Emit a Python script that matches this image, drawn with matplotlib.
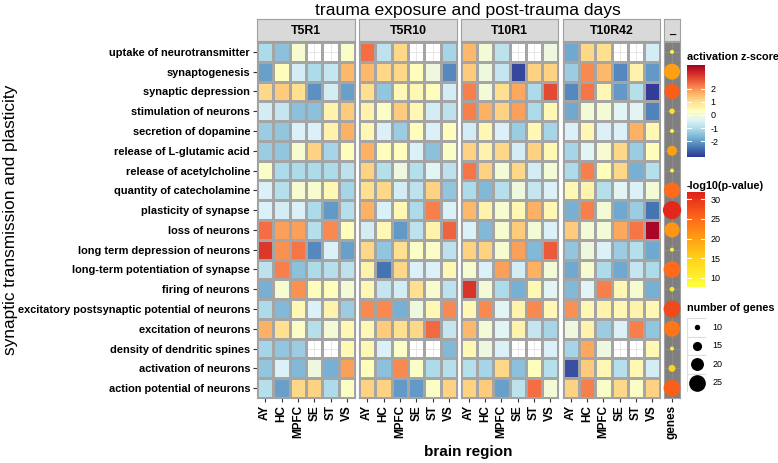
import numpy as np
import matplotlib
matplotlib.use('Agg')
import matplotlib.pyplot as plt
from matplotlib.colors import LinearSegmentedColormap
from matplotlib.patches import Rectangle

plt.rcParams['font.family'] = ['Liberation Sans', 'DejaVu Sans']

functions = ["uptake of neurotransmitter", "synaptogenesis", "synaptic depression",
             "stimulation of neurons", "secretion of dopamine", "release of L-glutamic acid",
             "release of acetylcholine", "quantity of catecholamine", "plasticity of synapse",
             "loss of neurons", "long term depression of neurons",
             "long-term potentiation of synapse", "firing of neurons",
             "excitatory postsynaptic potential of neurons", "excitation of neurons",
             "density of dendritic spines", "activation of neurons",
             "action potential of neurons"]
regions = ["AY", "HC", "MPFC", "SE", "ST", "VS"]
conditions = ["T5R1", "T5R10", "T10R1", "T10R42"]
nan = np.nan

z_T5R1 = [
    [-1.05, -1.5, 0.1, nan, nan, 0.2],
    [-1.95, 0.35, -0.55, -1.05, -0.75, 1.55],
    [1.1, 1.3, 1.0, -2.15, -0.55, -1.95],
    [-0.55, -0.75, -1.5, -1.5, 0.6, 1.3],
    [-1.3, -1.4, -0.45, -0.45, 0.6, 1.65],
    [-1.3, -1.4, 0.1, 1.2, -1.15, 0.35],
    [0.2, -1.05, -1.05, -1.05, -1.05, -0.85],
    [-0.45, -0.95, 0.1, 0.1, 0.45, -1.15],
    [-0.45, -0.55, -0.45, -1.05, -2.05, -0.95],
    [2.4, 1.85, 1.85, -0.95, 2.1, 0.35],
    [3.0, 2.0, 2.3, -2.25, -0.45, -1.95],
    [-0.85, 2.2, -1.5, -1.05, -0.95, -0.85],
    [-1.75, 0.1, 2.0, 0.35, 0.35, 0.0],
    [-1.05, -1.6, 0.45, -0.45, 0.6, -1.3],
    [1.65, 1.0, 0.2, -0.95, 0.0, 0.45],
    [-1.15, -1.4, -1.3, nan, nan, 0.45],
    [-1.4, -0.45, -1.6, -0.1, -1.75, 1.85],
    [-0.95, -1.95, 1.1, 1.2, -1.05, 0.2],
]
z_T5R10 = [
    [2.4, -0.85, 1.1, nan, nan, -1.15],
    [1.55, 1.1, 1.1, 0.35, -0.1, -2.25],
    [1.0, -1.4, 0.45, 0.45, 0.35, -0.55],
    [0.6, 0.2, 1.3, 0.45, -0.55, -0.85],
    [0.45, -0.45, -1.3, 0.35, -0.45, 0.35],
    [1.65, 0.35, 0.35, -0.45, -1.5, 0.2],
    [1.2, -0.95, -0.1, -0.95, -0.35, -0.85],
    [1.0, 1.1, -0.55, -0.85, 1.2, -1.4],
    [1.65, -0.45, 0.45, -1.05, 2.2, -0.45],
    [-0.55, 0.45, -2.05, -0.85, 0.6, 2.5],
    [1.1, -1.4, 1.0, 0.2, 0.2, -0.85],
    [0.6, -2.5, 1.1, -0.45, -0.45, 0.45],
    [0.45, -0.75, -0.55, 1.0, 0.1, -0.85],
    [2.1, 2.1, -1.75, -0.1, 0.45, 2.1],
    [0.45, 1.3, 1.0, 1.1, 2.45, -0.75],
    [0.45, -0.45, 0.2, nan, nan, -1.6],
    [0.35, -1.5, 2.1, 0.2, -1.05, -0.95],
    [1.2, 1.2, -2.05, -2.05, 0.2, 1.2],
]
z_T10R1 = [
    [1.55, 0.0, -0.85, nan, nan, -0.1],
    [1.3, -0.1, -0.75, -3.0, 1.2, 1.2],
    [2.2, 0.0, 1.0, 1.75, -1.05, 2.8],
    [2.2, 1.65, 1.2, 1.85, -1.05, 0.45],
    [-0.55, 0.45, -0.45, -1.3, 0.45, -1.15],
    [1.2, 0.6, 1.1, -0.55, 1.2, 0.45],
    [2.3, 1.2, 0.0, 1.1, -0.55, 0.0],
    [-1.05, -1.6, -0.95, -0.1, -0.75, -0.45],
    [1.55, 0.6, 0.1, 0.45, 1.65, 0.45],
    [-0.45, -1.6, 0.1, 1.3, 0.0, -0.45],
    [1.2, 1.2, 0.1, 1.85, -1.6, 2.6],
    [0.1, -0.45, 1.85, -0.55, 1.65, 0.0],
    [3.05, 0.0, -1.05, -1.75, 0.45, -0.35],
    [0.45, 2.1, -0.35, 0.6, 2.1, 0.45],
    [1.55, 0.0, -0.35, 0.6, -0.75, -1.15],
    [0.45, -0.1, -0.45, nan, nan, -0.45],
    [-0.95, -1.15, 1.1, -1.5, 0.35, -0.95],
    [1.2, 1.3, -1.95, -0.85, 2.4, 0.0],
]
z_T10R42 = [
    [-1.85, 1.1, 1.0, nan, nan, -0.55],
    [-1.3, 2.1, 1.55, -2.25, 0.6, -2.05],
    [-2.25, 2.3, 0.45, -2.05, -0.95, -3.1],
    [-1.85, 0.0, 0.0, -0.35, -0.35, -2.3],
    [-0.45, 0.45, -0.45, -0.45, 1.65, 0.45],
    [-1.15, -0.35, 0.1, 1.1, -1.3, 0.35],
    [-1.05, 2.2, 0.35, 1.1, -1.75, -0.95],
    [0.45, 0.6, -0.95, -0.35, -0.45, 0.0],
    [-1.75, 2.2, 0.0, -1.85, -1.3, -2.5],
    [1.3, 0.0, 0.0, 1.75, 2.3, 3.7],
    [-1.4, -0.1, -0.45, -1.3, -0.95, -1.85],
    [-1.85, 0.1, -1.05, -1.85, -0.75, -1.05],
    [-1.6, -0.35, 2.2, 0.45, 0.1, -1.75],
    [2.0, 0.45, 0.6, 0.45, 0.6, 0.45],
    [-0.1, 0.6, -1.3, -0.45, 2.2, -1.4],
    [-1.15, 1.75, -0.1, nan, nan, 0.45],
    [-2.9, 1.3, 0.45, -0.95, 0.45, -0.55],
    [1.2, 2.2, 0.2, 1.1, 0.2, 1.2],
]
gene_counts = [10, 26, 25, 12, 10, 18, 10, 26, 29, 25, 10, 27, 11, 27, 26, 10, 14, 27]
gene_logp = [9, 20, 26, 13, 9, 20, 10, 25, 31, 21, 10, 25, 12, 28, 24, 10, 15, 26]
size_breaks = [10, 15, 20, 25]
z_ticks = [2, 1, 0, -1, -2]
p_ticks = [30, 25, 20, 15, 10]

panels = [z_T5R1, z_T5R10, z_T10R1, z_T10R42]

W, H = 778, 463
fig = plt.figure(figsize=(W / 100, H / 100), dpi=100)


def px_axes(x0, y0, x1, y1):
    return fig.add_axes([x0 / W, 1 - y1 / H, (x1 - x0) / W, (y1 - y0) / H])


zcmap = plt.get_cmap('RdYlBu_r')
zmin, zmax = -3.2, 3.8
pcmap = LinearSegmentedColormap.from_list(
    'pv', [(0, '#FFFF3C'), (0.3, '#FFD21A'), (0.5, '#FFA214'), (0.72, '#FF6A1A'), (1.0, '#E0201B')])
pmin, pmax = 7.7, 31.8


def size_pts(n):
    d_px = 4 + (np.asarray(n, float) - 10) * 0.75
    return (d_px * 0.72) ** 2


panel_x = [(257, 355), (359, 457), (461, 558), (563, 660)]
ytop, ybot = 42, 398
nrow = len(functions)
border = '#A0A0A0'

for k, (cond, data) in enumerate(zip(conditions, panels)):
    x0, x1 = panel_x[k]
    ax = px_axes(x0, ytop, x1, ybot)
    arr = np.ma.masked_invalid(np.array(data, float))
    ax.pcolormesh(np.arange(len(regions) + 1) - 0.5, np.arange(nrow + 1) - 0.5, arr,
                  cmap=zcmap, vmin=zmin, vmax=zmax, edgecolors='#A5A5A5', linewidth=0.9, zorder=2)
    ax.set_xlim(-0.5, len(regions) - 0.5)
    ax.set_ylim(nrow - 0.5, -0.5)
    ax.set_xticks(range(len(regions)))
    ax.set_xticklabels(regions, rotation=90, fontsize=8.5, fontweight='bold')
    ax.set_yticks(range(nrow))
    ax.grid(True, color='#E3E3E3', lw=0.6, zorder=0)
    ax.set_axisbelow(True)
    ax.tick_params(axis='x', length=3, color='#333333', pad=2)
    if k == 0:
        ax.set_yticklabels(functions, fontsize=7.9, fontweight='bold')
        ax.tick_params(axis='y', length=3, color='#333333', pad=2)
    else:
        ax.tick_params(axis='y', left=False, labelleft=False)
    for s in ax.spines.values():
        s.set_color(border)
        s.set_linewidth(0.8)
    sax = px_axes(x0, 19, x1, 41)
    sax.set_facecolor('#D9D9D9')
    sax.set_xticks([]); sax.set_yticks([])
    for s in sax.spines.values():
        s.set_color(border)
    sax.text(0.5, 0.45, cond, ha='center', va='center', fontsize=8.8, fontweight='bold',
             transform=sax.transAxes)

# genes column
gx0, gx1 = 664, 680
gax = px_axes(gx0, ytop, gx1, ybot)
gax.set_facecolor('#7F7F7F')
gax.set_xlim(-0.5, 0.5)
gax.set_ylim(nrow - 0.5, -0.5)
gax.set_yticks(range(nrow))
gax.set_xticks([0])
gax.set_xticklabels(['genes'], rotation=90, fontsize=8.5, fontweight='bold')
gax.grid(True, color='#8E8E8E', lw=0.6, zorder=0)
gax.set_axisbelow(True)
gax.tick_params(axis='y', left=False, labelleft=False)
gax.tick_params(axis='x', length=3, color='#333333', pad=2)
for s in gax.spines.values():
    s.set_color(border)
gax.scatter(np.zeros(nrow), np.arange(nrow), s=size_pts(gene_counts), c=gene_logp,
            cmap=pcmap, vmin=pmin, vmax=pmax, edgecolors='none', zorder=3, clip_on=False)
sax = px_axes(gx0, 19, gx1, 41)
sax.set_facecolor('#D9D9D9')
sax.set_xticks([]); sax.set_yticks([])
for s in sax.spines.values():
    s.set_color(border)
sax.text(0.5, 0.45, '_', ha='center', va='center', fontsize=8, fontweight='bold',
         transform=sax.transAxes)

# titles
fig.text(468 / W, 1 - 10 / H, 'trauma exposure and post-trauma days', ha='center', va='center',
         fontsize=12.6)
fig.text(468 / W, 1 - 452 / H, 'brain region', ha='center', va='center', fontsize=11,
         fontweight='bold')
fig.text(11 / W, 1 - 220 / H, 'synaptic transmission and plasticity', ha='center', va='center',
         rotation=90, fontsize=12.4)


# colorbars
def gradient_bar(y0, y1, cmap, vmin, vmax, ticks, title, title_y):
    cax = px_axes(687, y0, 705, y1)
    grad = np.linspace(vmax, vmin, 256)[:, None]
    cax.imshow(grad, aspect='auto', cmap=cmap, vmin=vmin, vmax=vmax,
               extent=[0, 1, vmin, vmax], origin='upper')
    cax.set_xlim(0, 1)
    cax.set_ylim(vmin, vmax)
    for t in ticks:
        cax.plot([0, 0.2], [t, t], color='white', lw=0.8)
        cax.plot([0.8, 1], [t, t], color='white', lw=0.8)
    cax.set_xticks([])
    cax.set_yticks(ticks)
    cax.set_yticklabels([str(t) for t in ticks], fontsize=6.5)
    cax.yaxis.tick_right()
    cax.tick_params(axis='y', length=0, pad=4)
    for s in cax.spines.values():
        s.set_visible(False)
    fig.text(687 / W, 1 - title_y / H, title, ha='left', va='center', fontsize=7.8,
             fontweight='bold')


gradient_bar(65, 157, zcmap, zmin, zmax, z_ticks, 'activation z-score', 57)
gradient_bar(192, 287, pcmap, pmin, pmax, p_ticks, '-log10(p-value)', 186)

# size legend
fig.text(687 / W, 1 - 308 / H, 'number of genes', ha='left', va='center', fontsize=7.8,
         fontweight='bold')
lax = px_axes(687, 318, 706, 392)
lax.set_xlim(0, 1)
lax.set_ylim(len(size_breaks), 0)
lax.axis('off')
for i, n in enumerate(size_breaks):
    lax.add_patch(Rectangle((0, i), 1, 1, facecolor='white', edgecolor='#DDDDDD', lw=0.8))
    lax.scatter([0.5], [i + 0.5], s=size_pts(n), color='black', zorder=3)
    lax.text(1.35, i + 0.5, str(n), ha='left', va='center', fontsize=6.5)

fig.savefig('out.png', dpi=100)
